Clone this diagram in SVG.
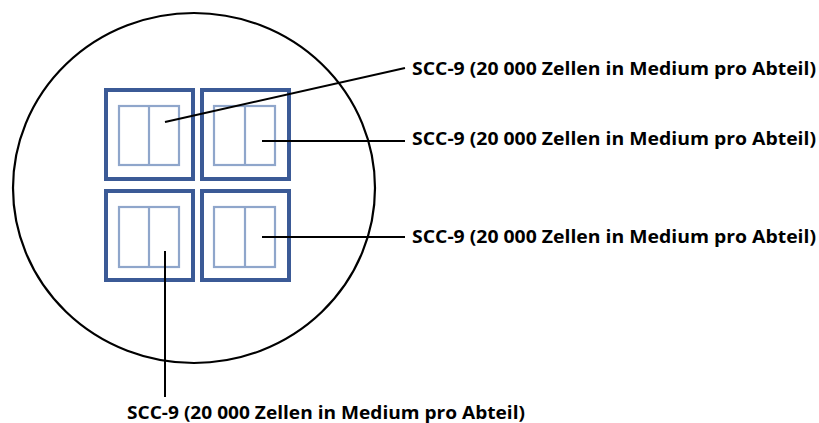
<svg xmlns="http://www.w3.org/2000/svg" width="819" height="423" viewBox="0 0 819 423">
<style>
.outer{fill:none;stroke:#3b5a96;stroke-width:4}
.inner{fill:none;stroke:#8fa6cb;stroke-width:2.2}
.lbl{font-family:"Open Sans","Liberation Sans",sans-serif;font-weight:bold;font-size:17.5px;fill:#000}
.conn{stroke:#000;stroke-width:2;fill:none}
</style>
<rect width="819" height="423" fill="#fff"/>
<g id="dish"><ellipse cx="194" cy="188" rx="181" ry="175" fill="none" stroke="#000" stroke-width="2.2"/></g>
<g id="chamber-tl">
<rect class="outer" x="106" y="90" width="87" height="89"/>
<rect class="inner" x="119" y="106" width="60" height="59"/>
<line class="inner" x1="149" y1="106" x2="149" y2="165"/>
</g>
<g id="chamber-tr">
<rect class="outer" x="202" y="90" width="87" height="89"/>
<rect class="inner" x="214" y="106" width="61" height="59"/>
<line class="inner" x1="245" y1="106" x2="245" y2="165"/>
</g>
<g id="chamber-bl">
<rect class="outer" x="106" y="191" width="87" height="89"/>
<rect class="inner" x="119" y="207" width="60" height="60"/>
<line class="inner" x1="149" y1="207" x2="149" y2="267"/>
</g>
<g id="chamber-br">
<rect class="outer" x="202" y="191" width="87" height="89"/>
<rect class="inner" x="214" y="207" width="61" height="60"/>
<line class="inner" x1="245" y1="207" x2="245" y2="267"/>
</g>
<g id="connectors">
<line class="conn" x1="165" y1="122" x2="405" y2="68"/>
<line class="conn" x1="262" y1="141" x2="405" y2="141"/>
<line class="conn" x1="262" y1="237" x2="405" y2="237"/>
<line class="conn" x1="165" y1="251" x2="165" y2="397"/>
</g>
<g id="label-1"><text class="lbl" x="412" y="75" textLength="404" lengthAdjust="spacingAndGlyphs">SCC-9 (20 000 Zellen in Medium pro Abteil)</text></g>
<g id="label-2"><text class="lbl" x="412" y="145" textLength="404" lengthAdjust="spacingAndGlyphs">SCC-9 (20 000 Zellen in Medium pro Abteil)</text></g>
<g id="label-3"><text class="lbl" x="412" y="243" textLength="404" lengthAdjust="spacingAndGlyphs">SCC-9 (20 000 Zellen in Medium pro Abteil)</text></g>
<g id="label-4"><text class="lbl" x="127" y="419" textLength="398" lengthAdjust="spacingAndGlyphs">SCC-9 (20 000 Zellen in Medium pro Abteil)</text></g>
</svg>
